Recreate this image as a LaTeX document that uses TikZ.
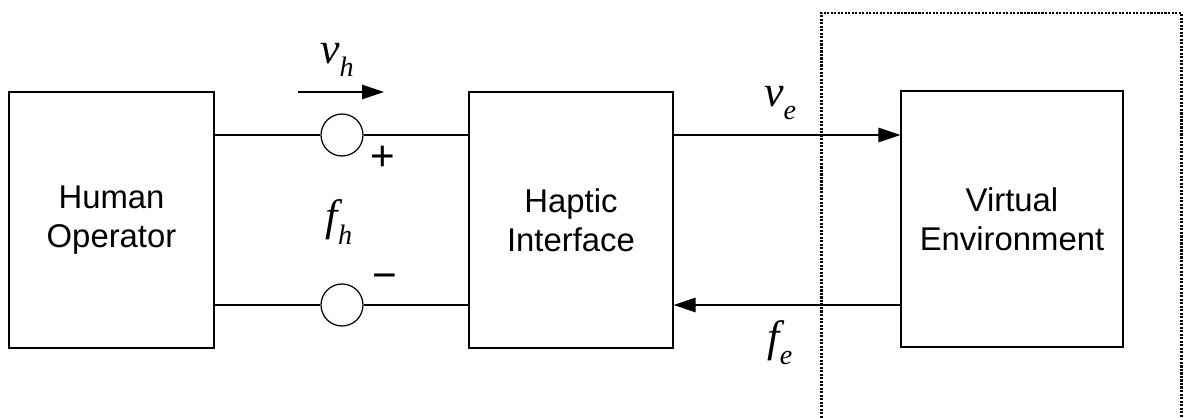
\documentclass[tikz,border=0pt]{standalone}
\usepackage{fontspec}
\setmainfont{Liberation Sans}
\newfontfamily\sigfont{Liberation Serif}[ItalicFont={Liberation Serif Italic}]
\usepackage{tikz}
\usetikzlibrary{positioning,arrows.meta,calc}
% port variables: italic letter with dropped subscript
\newcommand{\sig}[2]{{\sigfont\itshape\fontsize{25}{25}\selectfont #1\raisebox{-0.3em}{\fontsize{16}{16}\selectfont #2}}}

\tikzset{
  block/.style={draw,line width=0.7pt,align=center,inner sep=0pt,
    minimum height=5.12cm,font=\fontsize{18.7}{22.2}\selectfont},
  junc/.style={draw,circle,line width=0.7pt,minimum size=0.84cm,inner sep=0pt},
  wire/.style={line width=0.7pt},
  flow/.style={line width=0.7pt,-{Triangle[length=0.44cm,width=0.29cm]}},
  sign/.style={font=\fontsize{24}{24}\selectfont,inner sep=0pt}
}

\begin{document}
\begin{tikzpicture}[x=0.02cm,y=-0.02cm]
\useasboundingbox (0,0) rectangle (1189,418);
% Blocks
\node[block,minimum width=4.1cm] (human) at (111.5,220) {Human\\Operator};
\node[block,minimum width=4.08cm] (haptic) at (571,220) {Haptic\\Interface};
\node[block,minimum width=4.44cm] (venv) at (1012,219) {Virtual\\Environment};
% Summing junctions on the port wires
\node[junc] (jtop) at (342,135) {};
\node[junc] (jbot) at (342,305) {};
\node[sign] (plus) at (383,158) {+};
\node[sign] (minus) at (385,282) {\textminus};
\draw[wire] (human.east |- jtop) -- (jtop) -- (haptic.west |- jtop);
\draw[wire] (human.east |- jbot) -- (jbot) -- (haptic.west |- jbot);
% Velocity arrow of the operator
\coordinate (vhA) at (298,92);
\coordinate (vhB) at (384,92);
\draw[flow] (vhA) -- (vhB);
\node (vh) at (337,60) {\sig{v}{h}};
\node (fh) at (339,222) {\sig{f}{h}};
% Environment side
\draw[flow] (haptic.east |- jtop) -- (venv.west |- jtop);
\draw[flow] (venv.west |- jbot) -- (haptic.east |- jbot);
\node (ve) at (780,103) {\sig{v}{e}};
\node (fe) at (780,343) {\sig{f}{e}};
% Virtual side boundary (open at the bottom)
\draw[line width=1.7pt,dash pattern=on 1.2pt off 0.8pt]
  (821,418) -- (821,13) -- (1181,13) -- (1181,418);
\end{tikzpicture}
\end{document}
